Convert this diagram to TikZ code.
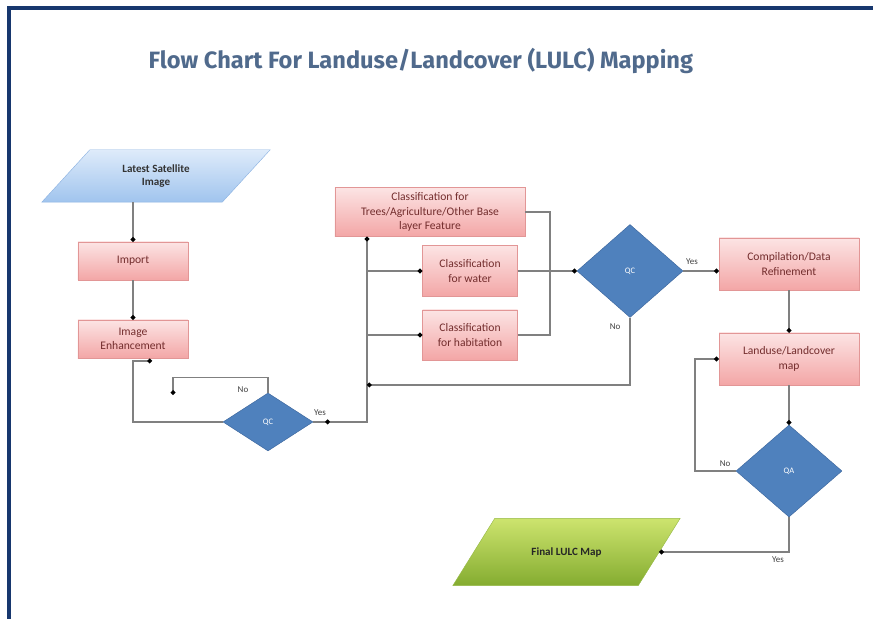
\documentclass[tikz,border=0pt]{standalone}
\usepackage{fontspec}
\setmainfont{Carlito}
\newfontfamily\titlefont{Fira Sans}
\usepackage{tikz}
\usetikzlibrary{positioning,shapes.geometric,arrows.meta,backgrounds}

\definecolor{framenavy}{RGB}{23,55,110}
\definecolor{titleblue}{RGB}{80,106,140}
\definecolor{linegray}{RGB}{128,128,128}
\definecolor{pinktop}{RGB}{252,228,228}
\definecolor{pinkbot}{RGB}{243,166,166}
\definecolor{pinkline}{RGB}{226,150,150}
\definecolor{pinktext}{RGB}{115,45,45}
\definecolor{bluetop}{RGB}{222,235,250}
\definecolor{bluebot}{RGB}{160,196,238}
\definecolor{blueline}{RGB}{140,178,225}
\definecolor{diamfill}{RGB}{79,129,189}
\definecolor{diamline}{RGB}{58,100,155}
\definecolor{greentop}{RGB}{205,228,110}
\definecolor{greenbot}{RGB}{132,172,48}
\definecolor{greenline}{RGB}{150,185,70}

\tikzset{
  procbox/.style={rectangle, draw=pinkline, top color=pinktop, bottom color=pinkbot,
    text=pinktext, align=center, inner sep=1pt, font=\fontsize{11}{13.5}\selectfont},
  decision/.style={diamond, draw=diamline, fill=diamfill, text=white, inner sep=0pt,
    font=\fontsize{8}{9}\selectfont},
  iotext/.style={rectangle, align=center, inner sep=0pt,
    font=\bfseries\fontsize{10.5}{13}\selectfont},
  conn/.style={draw=linegray, line width=1.1pt, -{Circle[length=4.5pt,color=black]}},
  plain/.style={draw=linegray, line width=1.1pt},
  answer/.style={font=\fontsize{8.5}{10}\selectfont, text=black!75}
}

\begin{document}
\begin{tikzpicture}
\useasboundingbox (0,0) rectangle (29.1,20.633);

% frame and title
\draw[framenavy, line width=3.6pt] (0.3,0) -- (0.3,20.367) -- (29.1,20.367);
\node[text=titleblue, font=\titlefont\bfseries\fontsize{22.4}{26}\selectfont] (title) at (14.03,18.6) {Flow Chart For Landuse/Landcover (LULC) Mapping};

% boxes
\node[iotext, text=black!80, minimum width=6cm, minimum height=1.733cm] (sat) at (5.2,14.767) {Latest Satellite\\Image};
\node[procbox, minimum width=3.667cm, minimum height=1.267cm] (imp) at (4.433,11.933) {Import};
\node[procbox, minimum width=3.667cm, minimum height=1.267cm] (enh) at (4.433,9.333) {Image\\Enhancement};
\node[decision, minimum width=3cm, minimum height=1.933cm] (qc1) at (8.933,6.567) {QC};

\node[procbox, minimum width=6.333cm, minimum height=1.633cm] (tree) at (14.333,13.567) {Classification for\\Trees/Agriculture/Other Base\\layer Feature};
\node[procbox, minimum width=3.167cm, minimum height=1.7cm] (water) at (15.667,11.6) {Classification\\for water};
\node[procbox, minimum width=3.167cm, minimum height=1.667cm] (habit) at (15.667,9.467) {Classification\\for habitation};
\node[decision, minimum width=3.533cm, minimum height=3.1cm] (qc2) at (21.0,11.6) {QC};

\node[procbox, minimum width=4.667cm, minimum height=1.733cm] (comp) at (26.3,11.833) {Compilation/Data\\Refinement};
\node[procbox, minimum width=4.667cm, minimum height=1.733cm] (land) at (26.3,8.667) {Landuse/Landcover\\map};
\node[decision, minimum width=3.533cm, minimum height=3.067cm] (qa) at (26.3,4.933) {QA};

\node[iotext, text=black!85, minimum width=6.167cm, minimum height=2.233cm] (final) at (18.883,2.233) {Final LULC Map};

% slanted input/output shapes behind their texts
\begin{scope}[on background layer]
\shadedraw[draw=blueline, top color=bluetop, bottom color=bluebot]
  ([xshift=-0.8cm]sat.south west) -- ([xshift=-0.8cm]sat.south east)
  -- ([xshift=0.8cm]sat.north east) -- ([xshift=0.8cm]sat.north west) -- cycle;
\shadedraw[draw=greenline, top color=greentop, bottom color=greenbot]
  ([xshift=-0.7cm]final.south west) -- ([xshift=-0.7cm]final.south east)
  -- ([xshift=0.7cm]final.north east) -- ([xshift=0.7cm]final.north west) -- cycle;
\end{scope}

% helper points
\coordinate (enhhook) at (5.067,8.6);
\coordinate (noend) at (5.767,7.467);
\coordinate (qcyes) at (11,6.567);
\coordinate (spine) at (12.233,6.567);
\coordinate (merge) at (18.333,9.467);
\coordinate (qcback) at (12.233,7.8);
\coordinate (qaloop) at (23.167,4.933);

% connectors
\draw[conn] (imp.north |- sat.south) -- (imp.north);
\draw[conn] (imp.south) -- (enh.north);
\draw[conn] (qc1.west) -| (enh.south |- enhhook) -- (enhhook);
\draw[conn] (qc1.north) -- ++(0,0.5) -| (noend);
\draw[conn] (qc1.east) -- (qcyes);
\draw[conn] (qcyes) -- (spine) -- (spine |- tree.south);
\draw[conn] (spine |- water.west) -- (water.west);
\draw[conn] (spine |- habit.west) -- (habit.west);
\draw[plain] (tree.east) -| (merge) -- (habit.east);
\draw[conn] (water.east) -- (qc2.west);
\draw[conn] (qc2.east) -- (comp.west |- qc2.east);
\draw[conn] (qc2.south) |- (qcback);
\draw[conn] (comp.south) -- (land.north);
\draw[conn] (land.south) -- (qa.north);
\draw[conn] (qa.west) -- (qaloop) |- (land.west);
\draw[conn] (qa.south) |- (final.east);

% answers
\node[answer] (no1) at (8.1,7.633) {No};
\node[answer] (yes1) at (10.667,6.867) {Yes};
\node[answer] (yes2) at (23.067,11.9) {Yes};
\node[answer] (no2) at (20.5,9.733) {No};
\node[answer] (no3) at (24.167,5.167) {No};
\node[answer] (yes3) at (25.933,1.967) {Yes};

\end{tikzpicture}
\end{document}
